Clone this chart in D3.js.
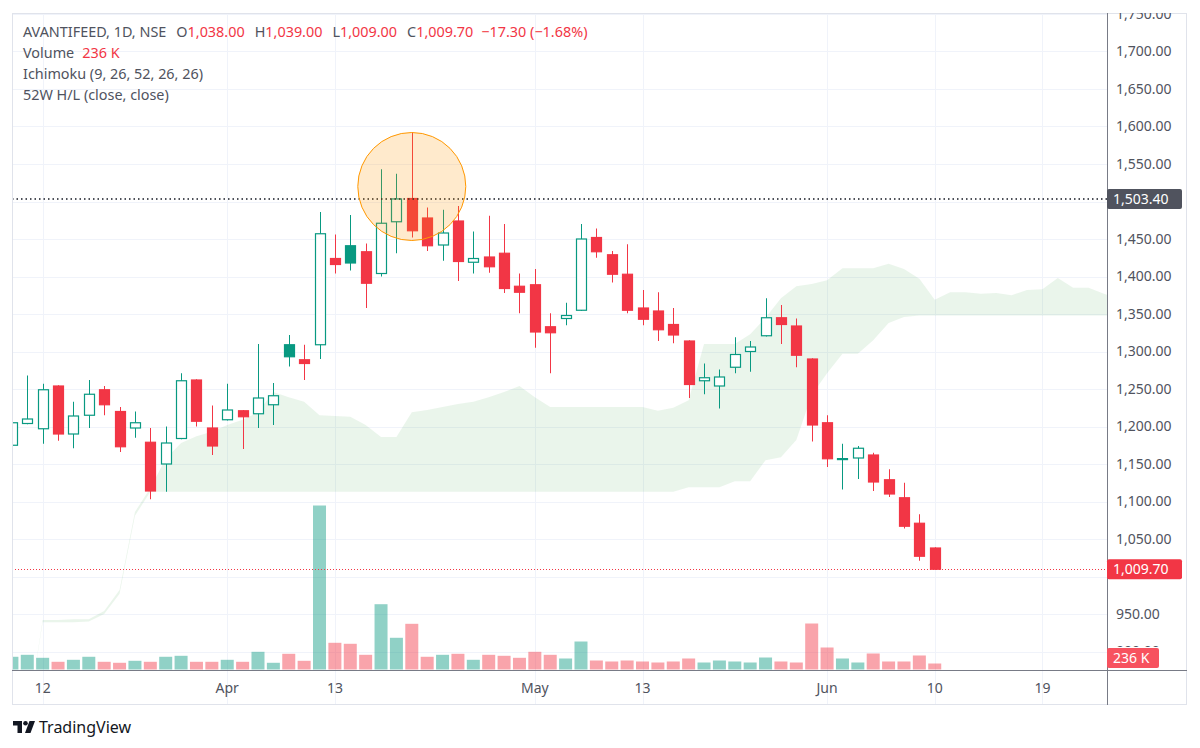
<!DOCTYPE html>
<html>
<head>
<meta charset="utf-8">
<script src="https://cdn.jsdelivr.net/npm/d3@7"></script>
<style>
  body { margin: 0; background: #fff; }
  svg { display: block; font-family: "Noto Sans", sans-serif; }
</style>
</head>
<body>
<svg id="chart" width="1200" height="748"></svg>
<script>
// daily candles, index 0 = first visible bar (partly cut on the left)
var opens = [1175, 1204, 1197, 1254, 1190, 1215, 1249, 1220, 1198, 1179,
    1150, 1184, 1262, 1198, 1209, 1221, 1217, 1229, 1309, 1289,
    1309, 1424, 1441, 1433, 1404, 1473, 1504, 1478, 1442, 1474,
    1419, 1426, 1431, 1387, 1389, 1333, 1344, 1355, 1452, 1429,
    1403, 1358, 1354, 1336, 1314, 1261, 1254, 1279, 1300, 1321,
    1345, 1334, 1290, 1205, 1156.5, 1158, 1162, 1129, 1105, 1071,
    1038];
var highs = [1207, 1268, 1257, 1255, 1233, 1262, 1254, 1226, 1220, 1198,
    1200, 1271, 1263, 1228, 1257, 1222, 1310, 1258, 1322, 1309,
    1486, 1456, 1482, 1444, 1543, 1537, 1592, 1492, 1489, 1494,
    1460, 1481, 1470, 1404, 1410, 1351, 1365, 1470, 1464, 1434,
    1443, 1382, 1379, 1358, 1315, 1284, 1276, 1319, 1314, 1371,
    1362, 1344, 1291, 1215, 1177, 1174, 1165, 1143, 1125, 1083,
    1039];
var lows = [1174, 1203, 1177, 1181, 1171, 1198, 1215, 1166, 1185, 1103,
    1113, 1183, 1200, 1162, 1208, 1170, 1198, 1202, 1280, 1262,
    1290, 1404, 1408, 1358, 1400, 1431, 1452, 1434, 1421, 1394,
    1404, 1405, 1378, 1351, 1305, 1271, 1335, 1354, 1425, 1392,
    1351, 1335, 1314, 1311, 1238, 1243, 1224, 1271, 1273, 1320,
    1310, 1279, 1180, 1146, 1116, 1130, 1114, 1106, 1064, 1021,
    1009];
var closes = [1205, 1210, 1249, 1190, 1214, 1243, 1229, 1173, 1205, 1114,
    1178, 1261, 1207, 1174, 1222, 1213, 1238, 1241, 1293, 1284,
    1457, 1416, 1418, 1391, 1471, 1503.4, 1461, 1441, 1458, 1420,
    1424, 1413, 1384, 1379, 1326, 1325, 1348, 1450, 1433, 1403,
    1355, 1343, 1329, 1322, 1256, 1265, 1266, 1296, 1306, 1345,
    1336, 1295, 1202, 1157, 1157.2, 1171, 1126, 1110, 1067, 1027,
    1009.7];
// volume in thousands
var volumes = [500, 578, 460, 303, 381, 500, 303, 264, 342, 303,
    500, 539, 303, 303, 381, 303, 696, 264, 617, 342,
    6450, 1050, 1011, 578, 2568, 1247, 1797, 500, 578, 617,
    381, 578, 539, 460, 696, 578, 433, 1101, 354, 315,
    354, 315, 275, 315, 433, 275, 354, 315, 275, 472,
    315, 275, 1809, 865, 433, 275, 629, 315, 315, 551,
    236];

// Ichimoku cloud edges, starting at bar index 1 (runs 26 bars ahead)
var cloudStart = 1;
var spanUpper = [809, 942, 942, 943, 943, 954, 982, 1086, 1118, 1157,
    1178, 1187, 1193, 1202, 1209, 1219, 1246, 1239, 1233, 1215,
    1214, 1213, 1202, 1186, 1186, 1219, 1222, 1226, 1230, 1233,
    1239, 1246, 1254, 1239, 1226, 1226, 1226, 1226, 1226, 1226,
    1226, 1221, 1225, 1235, 1310, 1310, 1310, 1323, 1345, 1371,
    1387, 1390, 1395, 1411, 1411, 1411, 1417, 1410, 1397, 1369,
    1379, 1379, 1377, 1378, 1375, 1382, 1383, 1398, 1385, 1385,
    1377, 1371];
var spanLower = [809, 939, 939, 939, 940, 950, 977, 1081, 1113, 1113,
    1113, 1113, 1113, 1113, 1113, 1113, 1113, 1113, 1113, 1113,
    1113, 1113, 1113, 1113, 1113, 1113, 1113, 1113, 1113, 1113,
    1113, 1113, 1113, 1113, 1113, 1113, 1113, 1113, 1113, 1113,
    1113, 1113, 1113, 1119, 1119, 1119, 1127, 1127, 1155, 1159,
    1182, 1242, 1271, 1297, 1297, 1315, 1338, 1346, 1348, 1348,
    1348, 1348, 1348, 1348, 1348, 1348, 1348, 1348, 1348, 1348,
    1348, 1348];

var timeTickIdx = [2, 14, 21, 34, 41, 53, 60, 67];
var timeTickLabels = ["12", "Apr", "13", "May", "13", "Jun", "10", "19"];
// 1,500 and 1,000 sit under the price labels, so they are not shown
var priceTicks = [900, 950, 1050, 1100, 1150, 1200, 1250, 1300, 1350, 1400,
    1450, 1550, 1600, 1650, 1700, 1750];
var gridTicks = d3.range(900, 1751, 50);

var high52w = 1503.40;
var lastClose = 1009.70;
var lastVolume = "236 K";
var markIdx = 26, markPrice = 1520; // highlighted zone

var svg = d3.select("#chart"),
    pLeft = 12, pRight = 1107, pTop = 13, pBottom = 670, axisBottom = 705, edge = 1187;

var up = "#089981", down = "#f23645", textCol = "#50535e", grid = "#f0f3fa";

var x = d3.scaleLinear().domain([0, 71.2]).range([11.9, pRight]);
var y = d3.scaleLinear().domain([1000, 1750]).range([576.5, 14]);
var yVol = d3.scaleLinear().domain([0, 6450]).range([669.5, 505.5]);
var fmt = d3.format(",.2f");

var defs = svg.append("defs");
defs.append("clipPath").attr("id", "plot")
    .append("rect").attr("x", pLeft).attr("y", pTop)
    .attr("width", pRight - pLeft).attr("height", pBottom - pTop);
// price scale text stops above the volume label, as on the reference
defs.append("clipPath").attr("id", "paxis")
    .append("rect").attr("x", pRight).attr("y", pTop)
    .attr("width", edge - pRight).attr("height", 647 - pTop);

// grid
svg.selectAll(".vg").data(timeTickIdx).enter().append("line")
    .attr("x1", function (d) { return Math.round(x(d)) + 0.5; })
    .attr("x2", function (d) { return Math.round(x(d)) + 0.5; })
    .attr("y1", pTop).attr("y2", axisBottom)
    .attr("stroke", grid).attr("stroke-width", 1);
var g = svg.append("g").attr("clip-path", "url(#plot)");
g.selectAll(".hg").data(gridTicks).enter().append("line")
    .attr("x1", pLeft).attr("x2", pRight)
    .attr("y1", function (d) { return Math.round(y(d)) + 0.5; })
    .attr("y2", function (d) { return Math.round(y(d)) + 0.5; })
    .attr("stroke", grid).attr("stroke-width", 1);

// ichimoku cloud
var cloud = spanUpper.map(function (v, i) { return [i + cloudStart, v, spanLower[i]]; });
g.append("path")
    .datum(cloud)
    .attr("fill", "rgba(67,160,71,0.11)")
    .attr("d", d3.area()
        .x(function (d) { return x(d[0]); })
        .y0(function (d) { return y(d[2]); })
        .y1(function (d) { return y(d[1]); }));

// volume
var bars = opens.map(function (o, i) { return { i: i, o: o, c: closes[i], v: volumes[i] }; });
g.selectAll(".vol").data(bars).enter().append("rect")
    .attr("x", function (d) { return x(d.i) - 6.5; })
    .attr("width", 13)
    .attr("y", function (d) { return yVol(d.v); })
    .attr("height", function (d) { return yVol(0) - yVol(d.v); })
    .attr("fill", function (d) { return d.c > d.o ? up : down; })
    .attr("opacity", 0.45);

// candles
var candles = opens.map(function (o, i) {
    var c = closes[i];
    var prev = i > 0 ? closes[i - 1] : o;
    return { i: i, o: o, h: highs[i], l: lows[i], c: c,
        col: c >= prev ? up : down, hollow: c > o };
});
var cg = g.selectAll(".candle").data(candles).enter().append("g");
cg.append("line")
    .attr("x1", function (d) { return Math.round(x(d.i)) + 0.5; })
    .attr("x2", function (d) { return Math.round(x(d.i)) + 0.5; })
    .attr("y1", function (d) { return y(d.h); })
    .attr("y2", function (d) { return y(d.l); })
    .attr("stroke", function (d) { return d.col; })
    .attr("stroke-width", 1);
cg.append("rect")
    .attr("x", function (d) { return Math.round(x(d.i)) - 4.5; })
    .attr("width", 10)
    .attr("y", function (d) { return y(Math.max(d.o, d.c)); })
    .attr("height", function (d) { return Math.max(1, Math.abs(y(d.o) - y(d.c))); })
    .attr("fill", function (d) { return d.hollow ? "#fff" : d.col; })
    .attr("stroke", function (d) { return d.col; })
    .attr("stroke-width", 1.2);

// 52W high line and last price line
g.append("line")
    .attr("x1", pLeft).attr("x2", pRight)
    .attr("y1", y(high52w)).attr("y2", y(high52w))
    .attr("stroke", "#131722").attr("stroke-width", 1.5)
    .attr("stroke-dasharray", "1.5,3");
g.append("line")
    .attr("x1", pLeft).attr("x2", pRight)
    .attr("y1", Math.round(y(lastClose)) + 0.5).attr("y2", Math.round(y(lastClose)) + 0.5)
    .attr("stroke", down).attr("stroke-width", 1)
    .attr("stroke-dasharray", "1,2");

// highlight circle
g.append("circle")
    .attr("cx", x(markIdx)).attr("cy", y(markPrice)).attr("r", 54)
    .attr("fill", "rgba(255,152,0,0.2)")
    .attr("stroke", "#ff9800").attr("stroke-width", 1);

// frame
svg.append("rect").attr("x", pLeft + 0.5).attr("y", pTop + 0.5)
    .attr("width", edge - pLeft - 1).attr("height", axisBottom - pTop - 1)
    .attr("fill", "none").attr("stroke", "#e0e3eb");
svg.append("line").attr("x1", pRight + 0.5).attr("x2", pRight + 0.5)
    .attr("y1", pTop).attr("y2", axisBottom)
    .attr("stroke", "#787b86");
svg.append("line").attr("x1", pLeft).attr("x2", edge)
    .attr("y1", pBottom + 0.5).attr("y2", pBottom + 0.5)
    .attr("stroke", "#787b86");

// price axis
svg.append("g").attr("clip-path", "url(#paxis)")
    .selectAll("text").data(priceTicks).enter().append("text")
    .attr("x", 1116).attr("y", function (d) { return y(d); })
    .attr("dy", "0.35em")
    .attr("font-size", 14).attr("fill", textCol)
    .text(function (d) { return fmt(d); });

// time axis
svg.selectAll(".tt").data(timeTickIdx).enter().append("text")
    .attr("x", function (d) { return x(d); })
    .attr("y", 688).attr("dy", "0.35em")
    .attr("text-anchor", "middle")
    .attr("font-size", 14).attr("fill", textCol)
    .text(function (d, i) { return timeTickLabels[i]; });

// price labels on axis
function axisLabel(yy, w, fill, txt) {
    svg.append("rect").attr("x", pRight).attr("y", yy - 10)
        .attr("width", w).attr("height", 20).attr("rx", 2)
        .attr("fill", fill);
    svg.append("text").attr("x", pRight + 6).attr("y", yy).attr("dy", "0.35em")
        .attr("font-size", 14).attr("fill", "#fff").text(txt);
}
axisLabel(y(high52w), 75, "#50535e", fmt(high52w));
axisLabel(y(lastClose), 75, down, fmt(lastClose));
axisLabel(658, 52, "#f7525f", lastVolume);

// legend
var legend = svg.append("g").attr("font-size", 14.4).attr("fill", textCol);
var l1 = legend.append("text").attr("x", 23).attr("y", 37);
l1.append("tspan").text("AVANTIFEED, 1D, NSE");
[["O", opens[60]], ["H", highs[60]], ["L", lows[60]], ["C", closes[60]]].forEach(function (p) {
    l1.append("tspan").attr("dx", 10).text(p[0]);
    l1.append("tspan").attr("fill", down).text(fmt(p[1]));
});
var chg = closes[60] - closes[59];
l1.append("tspan").attr("dx", 8).attr("fill", down)
    .text("\u2212" + fmt(Math.abs(chg)) + " (\u2212" + fmt(Math.abs(chg) / closes[59] * 100) + "%)");
var l2 = legend.append("text").attr("x", 23).attr("y", 58);
l2.append("tspan").text("Volume");
l2.append("tspan").attr("dx", 8).attr("fill", down).text(lastVolume);
legend.append("text").attr("x", 23).attr("y", 79).text("Ichimoku (9, 26, 52, 26, 26)");
legend.append("text").attr("x", 23).attr("y", 100).text("52W H/L (close, close)");

// logo
var logo = svg.append("g").attr("fill", "#131722");
logo.append("path").attr("d", "M13 721 H22 V733 H17.5 V725.5 H13 Z");
logo.append("circle").attr("cx", 25.5).attr("cy", 723.3).attr("r", 2.3);
logo.append("path").attr("d", "M29.5 721 H35 L30.5 733 H25 Z");
logo.append("text").attr("x", 39).attr("y", 733)
    .attr("font-size", 16).text("TradingView");
</script>
</body>
</html>
